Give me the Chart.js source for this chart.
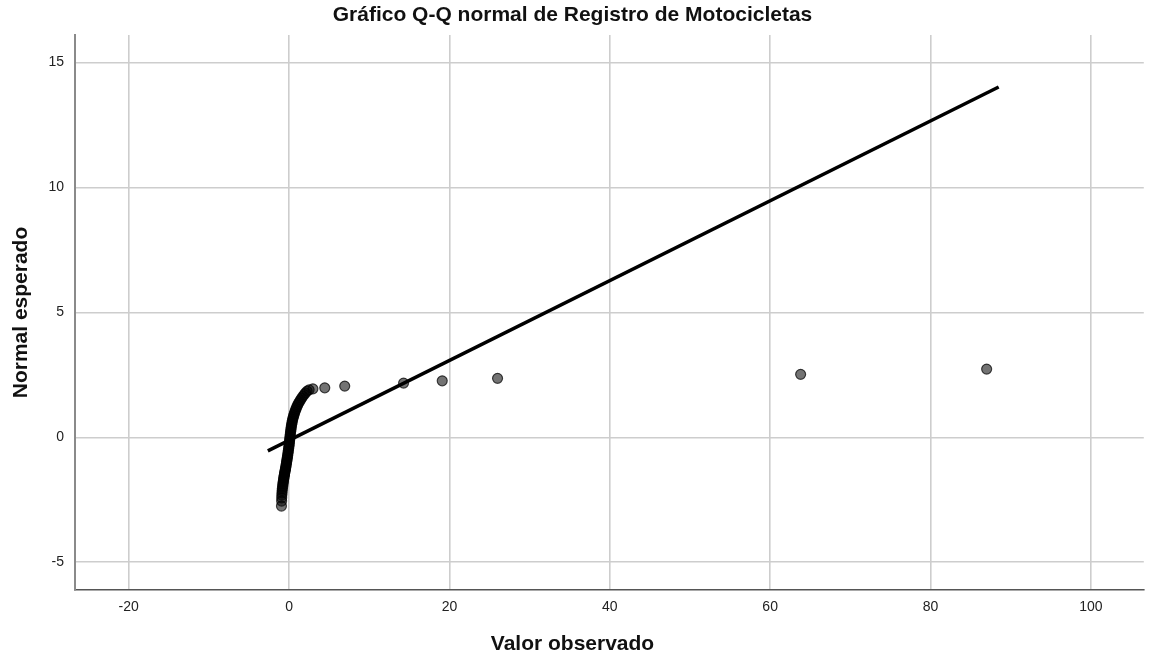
<!DOCTYPE html>
<html>
<head>
<meta charset="utf-8">
<script src="https://cdn.jsdelivr.net/npm/chart.js@4"></script>
<style>
  html, body { margin: 0; padding: 0; background: #fff; }
  #wrap { width: 1150px; height: 661px; }
</style>
</head>
<body>
<div id="wrap"><canvas id="qqChart" width="1150" height="661"></canvas></div>
<script>
// observed value vs expected normal quantile
let obs_x = [
    -0.95, -0.93, -0.92, -0.90, -0.88, -0.86, -0.84, -0.80, -0.78, -0.76,
    -0.73, -0.70, -0.68, -0.65, -0.62, -0.60, -0.57, -0.54, -0.51, -0.48,
    -0.45, -0.42, -0.39, -0.36, -0.33, -0.30, -0.27, -0.24, -0.21, -0.18,
    -0.15, -0.12, -0.09, -0.06, -0.03, 0.00, 0.02, 0.05, 0.07, 0.10,
    0.12, 0.15, 0.17, 0.20, 0.23, 0.26, 0.29, 0.33, 0.37, 0.41,
    0.46, 0.52, 0.58, 0.65, 0.72, 0.80, 0.88, 0.97, 1.07, 1.18,
    1.30, 1.43, 1.57, 1.72, 1.88, 2.05, 2.25, 2.50, 2.97, 4.45,
    6.94, 14.28, 19.10, 26.00, 63.80, 87.00
];
let exp_y = [
    -2.75, -2.55, -2.42, -2.31, -2.22, -2.13, -2.05, -1.98, -1.91, -1.85,
    -1.79, -1.73, -1.68, -1.62, -1.57, -1.52, -1.47, -1.42, -1.37, -1.32,
    -1.27, -1.22, -1.16, -1.10, -1.04, -0.98, -0.92, -0.86, -0.80, -0.74,
    -0.67, -0.60, -0.53, -0.46, -0.39, -0.32, -0.25, -0.18, -0.11, -0.04,
    0.03, 0.10, 0.17, 0.24, 0.31, 0.38, 0.45, 0.52, 0.59, 0.66,
    0.73, 0.80, 0.87, 0.94, 1.01, 1.08, 1.15, 1.22, 1.29, 1.36,
    1.43, 1.50, 1.57, 1.64, 1.71, 1.78, 1.85, 1.90, 1.94, 1.98,
    2.05, 2.17, 2.26, 2.36, 2.52, 2.73
];
// reference line end points
let line_x = [-2.65, 88.5];
let line_y = [-0.54, 14.02];
let x_ticks = [-20, 0, 20, 40, 60, 80, 100];
let y_ticks = [-5, 0, 5, 10, 15];

let points = [];
for (let i = 0; i < obs_x.length; i++) {
    points.push({ x: obs_x[i], y: exp_y[i] });
}
let ref_line = [];
for (let i = 0; i < line_x.length; i++) {
    ref_line.push({ x: line_x[i], y: line_y[i] });
}

Chart.defaults.font.family = "'Liberation Sans', Arial, sans-serif";
Chart.defaults.color = '#222';

var ctx = document.getElementById('qqChart');
var chart = new Chart(ctx, {
    type: 'scatter',
    data: {
        datasets: [
            {
                type: 'line',
                data: ref_line,
                borderColor: '#000',
                borderWidth: 3.5,
                pointRadius: 0,
                fill: false,
                order: 2
            },
            {
                data: points,
                backgroundColor: 'rgba(0,0,0,0.55)',
                borderColor: 'rgba(0,0,0,0.7)',
                borderWidth: 1.2,
                pointRadius: 5,
                order: 1
            }
        ]
    },
    options: {
        responsive: false,
        animation: false,
        layout: { padding: { left: 0, right: 5, top: 0, bottom: 0 } },
        scales: {
            x: {
                type: 'linear',
                min: -26.7,
                max: 106.6,
                afterBuildTicks: (s) => { s.ticks = x_ticks.map(v => ({ value: v })); },
                afterFit: (s) => { s.height = 42; },
                grid: { color: '#cdcdcd', lineWidth: 1.6, drawTicks: false },
                border: { display: true, color: '#555', width: 1.6 },
                ticks: { padding: 9, font: { size: 14 } }
            },
            y: {
                type: 'linear',
                min: -6.11,
                max: 16.1,
                afterBuildTicks: (s) => { s.ticks = y_ticks.map(v => ({ value: v })); },
                afterFit: (s) => { s.width = 75; },
                grid: { color: '#cdcdcd', lineWidth: 1.6, drawTicks: false },
                border: { display: true, color: '#8a8a8a', width: 2 },
                ticks: { padding: 11, font: { size: 14 } },
                title: {
                    display: true,
                    text: 'Normal esperado',
                    font: { size: 21, weight: 'bold' },
                    color: '#111',
                    padding: { top: 9, bottom: 0 }
                }
            }
        },
        plugins: {
            legend: { display: false },
            tooltip: { enabled: false },
            title: {
                display: true,
                text: 'Gráfico Q-Q normal de Registro de Motocicletas',
                font: { size: 21, weight: 'bold' },
                color: '#111',
                padding: { top: 3, bottom: 6.8 }
            },
            subtitle: {
                display: true,
                position: 'bottom',
                text: 'Valor observado',
                font: { size: 21, weight: 'bold' },
                color: '#111',
                padding: { top: 0, bottom: 3.8 }
            }
        }
    }
});
</script>
</body>
</html>
